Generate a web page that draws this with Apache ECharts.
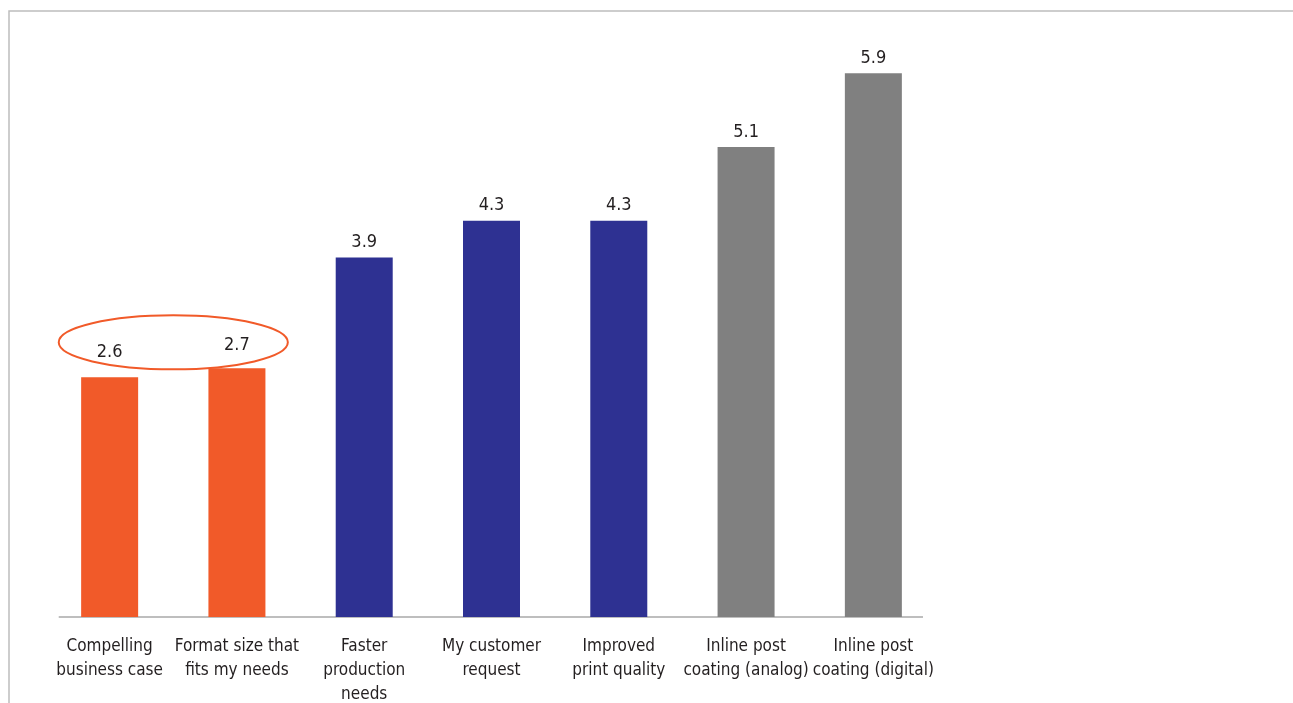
<!DOCTYPE html>
<html>
<head>
<meta charset="utf-8">
<script src="https://cdn.jsdelivr.net/npm/echarts@6/dist/echarts.min.js"></script>
<style>html,body{margin:0;padding:0;background:#fff;}#c{width:1293px;height:703px;}</style>
</head>
<body>
<div id="c"></div>
<script>
const categories = ["Compelling\nbusiness case", "Format size that\nfits my needs", "Faster\nproduction\nneeds", "My customer\nrequest", "Improved\nprint quality", "Inline post\ncoating (analog)", "Inline post\ncoating (digital)"];
const values = [2.6, 2.7, 3.9, 4.3, 4.3, 5.1, 5.9];
const colors = ["#F15A29", "#F15A29", "#2E3192", "#2E3192", "#2E3192", "#808080", "#808080"];
const labelGap = [16, 14, 6, 6, 6, 6, 6];

const FONT = '"DejaVu Sans Condensed", "Liberation Sans", sans-serif';
const chart = echarts.init(document.getElementById('c'));
chart.setOption({
  animation: false,
  backgroundColor: '#fff',
  grid: { left: 46, right: 356, top: 64, bottom: 86, outerBoundsMode: 'none', containLabel: false },
  xAxis: {
    type: 'category',
    data: categories,
    axisLine: { show: false },
    axisTick: { show: false },
    axisLabel: { interval: 0, margin: 18, fontFamily: FONT, fontSize: 17, lineHeight: 24, color: '#231F20' }
  },
  yAxis: { type: 'value', min: 0, max: 6, show: false, splitLine: { show: false } },
  series: [{
    type: 'bar',
    barWidth: 57,
    data: values.map((v, i) => ({
      value: v,
      itemStyle: { color: colors[i] },
      label: { distance: labelGap[i] }
    })),
    label: { show: true, position: 'top', fontFamily: FONT, fontSize: 18, color: '#231F20', formatter: p => p.value.toFixed(1) }
  }]
});

const p0 = chart.convertToPixel({ gridIndex: 0 }, [0, 0]);
const p1 = chart.convertToPixel({ gridIndex: 0 }, [1, 0]);
const pLast = chart.convertToPixel({ gridIndex: 0 }, [categories.length - 1, 0]);
const step = p1[0] - p0[0];
const ellY = chart.convertToPixel({ gridIndex: 0 }, [0, 2.98])[1];
chart.setOption({
  graphic: [
    { type: 'rect', shape: { x: 9, y: 11, width: 1400, height: 800 }, style: { fill: 'none', stroke: '#BDBDBD', lineWidth: 1.5 }, silent: true },
    { type: 'line', shape: { x1: p0[0] - step * 0.4, y1: p0[1], x2: pLast[0] + step * 0.39, y2: p0[1] }, style: { stroke: '#7F7F7F', lineWidth: 1.2 }, silent: true },
    { type: 'ellipse', shape: { cx: (p0[0] + p1[0]) / 2, cy: ellY, rx: step * 0.9, ry: 27 }, style: { fill: 'none', stroke: '#F15A29', lineWidth: 2 }, silent: true }
  ]
});
</script>
</body>
</html>
